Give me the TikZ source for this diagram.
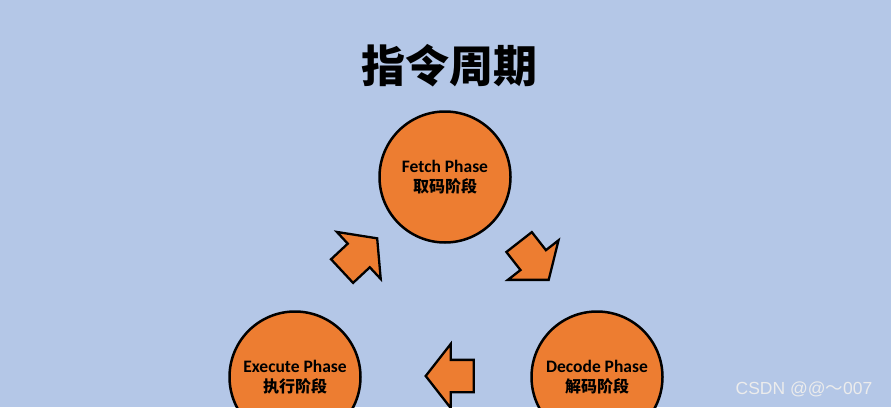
\documentclass[tikz,border=0pt]{standalone}
\usepackage{fontspec}
\setmainfont{Carlito}
\newfontfamily\cjk{Noto Sans CJK SC}
\newfontfamily\wmfont{Liberation Sans}
\usetikzlibrary{shapes.arrows}
\definecolor{bgblue}{HTML}{B4C7E7}
\definecolor{phaseorange}{HTML}{ED7D31}
\tikzset{
  phase/.style={circle, draw=black, line width=2.5pt, fill=phaseorange,
    minimum size=131pt, inner sep=0pt, align=center,
    font=\fontsize{17.5}{20}\selectfont\bfseries},
  cjklabel/.style={},
  flowarrow/.style={single arrow, draw=black, line width=2.3pt, fill=phaseorange,
    minimum height=48pt, inner xsep=0pt, inner ysep=15pt,
    single arrow head extend=16pt, single arrow tip angle=104},
}
\newcommand{\cjklbl}[1]{{\cjk\bfseries\fontsize{16}{20}\selectfont #1}}
\begin{document}
\begin{tikzpicture}[x=1pt,y=-1pt]
\fill[bgblue] (0,0) rectangle (891,407);
\useasboundingbox (0,0) rectangle (891,407);
\node (title) at (449,66) {\cjk\bfseries\fontsize{44}{50}\selectfont 指令周期};
\node[phase] (fetch) at (445,177) {Fetch Phase\\\cjklbl{取码阶段}};
\node[phase] (decode) at (597,377) {Decode Phase\\\cjklbl{解码阶段}};
\node[phase] (execute) at (295,377) {Execute Phase\\\cjklbl{执行阶段}};
\node[flowarrow, rotate=-52] (a1) at (530,256) {};
\node[flowarrow, rotate=180] (a2) at (456,376) {};
\node[flowarrow, rotate=43] (a3) at (355,259) {};
\node[text=white!85!gray, font=\wmfont\fontsize{17.5}{20}\selectfont] (wm) at (804,389) {CSDN @@{\cjk ～}007};
\end{tikzpicture}
\end{document}
